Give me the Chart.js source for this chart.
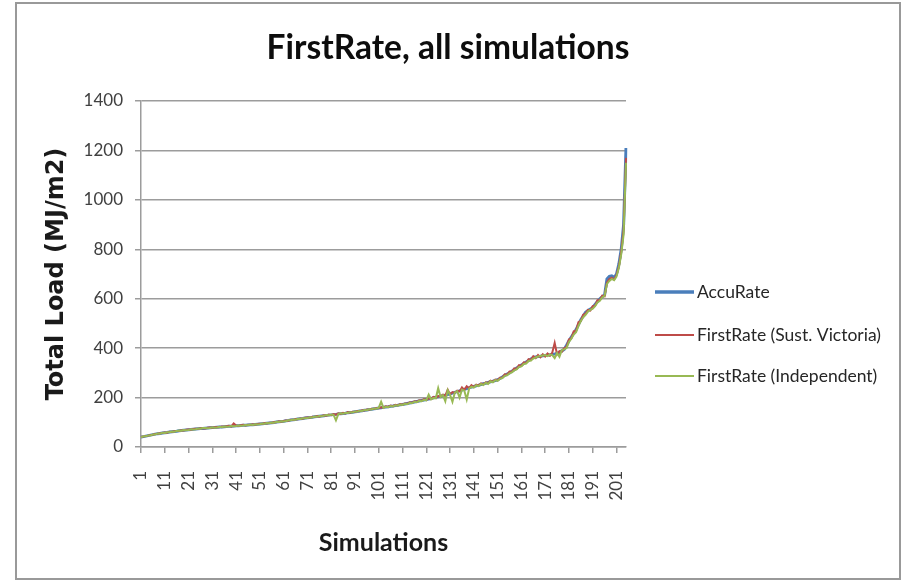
<!DOCTYPE html>
<html><head><meta charset="utf-8">
<script src="https://cdn.jsdelivr.net/npm/chart.js@4.4.1/dist/chart.umd.min.js"></script>
<style>html,body{margin:0;padding:0;background:#fff;}canvas{display:block;}</style>
</head><body>
<canvas id="c" width="906" height="582"></canvas>
<script>
const categories = [
1,2,3,4,5,6,7,8,9,10,11,12,13,14,15,16,17,18,19,20,
21,22,23,24,25,26,27,28,29,30,31,32,33,34,35,36,37,38,39,40,
41,42,43,44,45,46,47,48,49,50,51,52,53,54,55,56,57,58,59,60,
61,62,63,64,65,66,67,68,69,70,71,72,73,74,75,76,77,78,79,80,
81,82,83,84,85,86,87,88,89,90,91,92,93,94,95,96,97,98,99,100,
101,102,103,104,105,106,107,108,109,110,111,112,113,114,115,116,117,118,119,120,
121,122,123,124,125,126,127,128,129,130,131,132,133,134,135,136,137,138,139,140,
141,142,143,144,145,146,147,148,149,150,151,152,153,154,155,156,157,158,159,160,
161,162,163,164,165,166,167,168,169,170,171,172,173,174,175,176,177,178,179,180,
181,182,183,184,185,186,187,188,189,190,191,192,193,194,195,196,197,198,199,200,
201,202,203,204,205];
const xTickLabels = [1,11,21,31,41,51,61,71,81,91,101,111,121,131,141,151,161,171,181,191,201];
const yTickValues = [0,200,400,600,800,1000,1200,1400];
const seriesNames = ['AccuRate','FirstRate (Sust. Victoria)','FirstRate (Independent)'];
const seriesColors = ['#4a7ebb','#be4b48','#98b954'];

const accuRate = [
40,42,44,46,48,50,52,54,55,57,
58,59,61,62,63,64,66,67,68,69,
70,71,72,73,74,75,75,76,77,78,
79,79,80,81,81,82,83,84,84,85,
86,86,87,88,88,89,90,90,91,92,
93,94,95,96,97,98,99,101,102,103,
104,106,107,109,110,111,113,114,115,117,
118,119,120,122,123,124,125,126,128,129,
130,131,132,134,135,136,137,139,140,141,
143,144,146,147,149,150,152,153,155,156,
158,159,161,162,163,165,166,168,169,171,
172,174,176,178,180,182,184,186,188,190,
192,194,196,199,201,203,205,208,210,212,
215,218,221,224,227,230,233,236,239,242,
245,248,250,253,256,258,261,264,266,269,
272,277,283,290,295,300,307,313,320,326,
332,338,344,350,356,362,364,366,367,369,
370,372,373,375,376,378,383,389,395,412,
430,445,460,475,495,515,530,545,552,558,
565,577,589,600,608,615,680,690,692,685,
700,740,800,900,1210];

const firstRateSustVic = [
41,42,45,46,49,50,53,54,56,57,
59,58,62,61,64,65,65,68,67,70,
71,70,73,74,73,76,76,75,78,79,
78,80,81,80,83,82,84,86,83,95,
87,85,88,90,87,90,89,92,90,93,
94,93,97,95,98,97,101,100,104,102,
105,107,106,110,109,113,112,115,114,118,
119,118,122,121,125,123,126,128,127,131,
129,133,131,136,134,138,136,141,139,143,
142,146,145,149,148,152,151,155,154,158,
157,161,160,165,162,168,165,171,168,174,
171,176,175,181,179,185,183,189,187,194,
190,197,194,203,199,206,204,212,208,232,
213,222,219,228,225,241,231,246,238,250,
243,252,249,257,254,262,259,268,264,273,
270,280,281,294,292,305,304,318,316,331,
328,342,340,355,352,367,360,372,363,375,
366,378,369,382,421,375,388,385,400,405,
435,440,468,470,505,510,535,540,555,552,
570,572,594,595,612,610,665,680,685,678,
695,730,790,880,1170];

const firstRateIndep = [
39,43,43,47,47,51,51,55,54,58,
57,60,60,63,62,65,67,66,69,68,
69,72,71,72,75,74,77,77,76,77,
80,78,79,82,80,83,82,83,85,84,
85,87,86,87,89,88,91,89,92,91,
92,95,94,97,96,99,98,102,101,104,
103,105,108,108,111,110,114,113,116,116,
117,120,119,123,122,125,124,127,129,128,
131,130,108,133,136,135,138,138,141,140,
144,143,147,146,150,149,153,152,156,155,
159,183,158,163,161,166,164,169,167,172,
170,175,173,179,177,183,181,187,185,191,
189,212,193,198,197,238,202,210,185,230,
211,183,220,226,200,232,228,192,236,244,
240,250,246,255,251,260,255,266,262,271,
268,276,279,288,290,298,302,310,314,324,
326,336,338,348,350,358,362,366,368,370,
372,368,374,372,360,380,365,392,395,400,
425,438,455,465,490,510,525,535,548,555,
560,570,585,592,605,612,660,672,680,675,
690,725,780,860,1150];

const SANS = 'Lato, "Open Sans", sans-serif';
const GRID = '#9c9c9c';

const framePlugin = {
  id: 'frame',
  beforeDraw(chart) {
    const ctx = chart.ctx;
    ctx.save();
    ctx.fillStyle = '#ffffff';
    ctx.fillRect(0, 0, chart.width, chart.height);
    ctx.strokeStyle = '#999999';
    ctx.lineWidth = 2;
    ctx.strokeRect(16, 3, 884, 576);
    ctx.restore();
  }
};

const legendPlugin = {
  id: 'sideLegend',
  afterDraw(chart) {
    const ctx = chart.ctx;
    const x0 = chart.chartArea.right + 29;
    const rows = [292, 335, 376];
    const widths = [3.5, 2, 2];
    ctx.save();
    ctx.font = '17.5px ' + SANS;
    ctx.textBaseline = 'middle';
    ctx.textAlign = 'left';
    seriesNames.forEach((name, i) => {
      ctx.beginPath();
      ctx.strokeStyle = seriesColors[i];
      ctx.lineWidth = widths[i];
      ctx.moveTo(x0, rows[i]);
      ctx.lineTo(x0 + 39, rows[i]);
      ctx.stroke();
      ctx.fillStyle = '#262626';
      ctx.fillText(name, x0 + 42, rows[i]);
    });
    ctx.restore();
  }
};

new Chart(document.getElementById('c'), {
  type: 'line',
  data: {
    labels: categories,
    datasets: [
      { label: seriesNames[0], data: accuRate, borderColor: seriesColors[0], backgroundColor: seriesColors[0], borderWidth: 3, pointRadius: 0, tension: 0, order: 3 },
      { label: seriesNames[1], data: firstRateSustVic, borderColor: seriesColors[1], backgroundColor: seriesColors[1], borderWidth: 2, pointRadius: 0, tension: 0, order: 2 },
      { label: seriesNames[2], data: firstRateIndep, borderColor: seriesColors[2], backgroundColor: seriesColors[2], borderWidth: 2, pointRadius: 0, tension: 0, order: 1 }
    ]
  },
  options: {
    responsive: false,
    animation: false,
    devicePixelRatio: 1,
    layout: { padding: { left: 0, right: 10, top: 0, bottom: 0 } },
    plugins: {
      legend: { display: false },
      tooltip: { enabled: false },
      title: {
        display: true,
        text: 'FirstRate, all simulations',
        color: '#0d0d0d',
        font: { family: SANS, size: 33.5, weight: 'bold', lineHeight: 1.2 },
        padding: { top: 28, bottom: 32.8 }
      }
    },
    scales: {
      x: {
        type: 'category',
        offset: false,
        grid: { drawOnChartArea: false, drawTicks: true, tickLength: 6, color: GRID, lineWidth: 1.5 },
        border: { display: true, color: GRID, width: 1.5 },
        ticks: {
          autoSkip: false, maxRotation: 90, minRotation: 90, padding: 18,
          color: '#404040', font: { family: SANS, size: 17 },
          callback: function(val, index) {
            const lab = categories[index];
            return xTickLabels.includes(lab) ? String(lab) : null;
          }
        },
        title: {
          display: true, text: 'Simulations', color: '#1a1a1a',
          font: { family: SANS, size: 25, weight: 'bold', lineHeight: 1.2 },
          padding: { top: 0, bottom: 24 }
        },
        afterFit: function(s) { s.height = 135; }
      },
      y: {
        type: 'linear', position: 'left', min: 0, max: 1400,
        afterBuildTicks: function(s) { s.ticks = yTickValues.map(v => ({ value: v })); },
        grid: { color: GRID, lineWidth: 1.5, tickLength: 6 },
        border: { display: true, color: GRID, width: 1.5 },
        ticks: { padding: 12, color: '#404040', font: { family: SANS, size: 17 },
          callback: function(v) { return String(v); } },
        title: {
          display: true, text: 'Total Load (MJ/m2)', color: '#1a1a1a',
          font: { family: '"DejaVu Sans", Verdana, sans-serif', size: 24, weight: 'bold', lineHeight: 1.2 },
          padding: { top: 42.6, bottom: 0 }
        },
        afterFit: function(s) { s.width = 141; }
      },
      yR: {
        type: 'linear', position: 'right', display: true,
        grid: { display: false }, border: { display: false },
        ticks: { display: false },
        afterFit: function(s) { s.width = 270; }
      }
    }
  },
  plugins: [framePlugin, legendPlugin]
});
</script>
</body></html>
